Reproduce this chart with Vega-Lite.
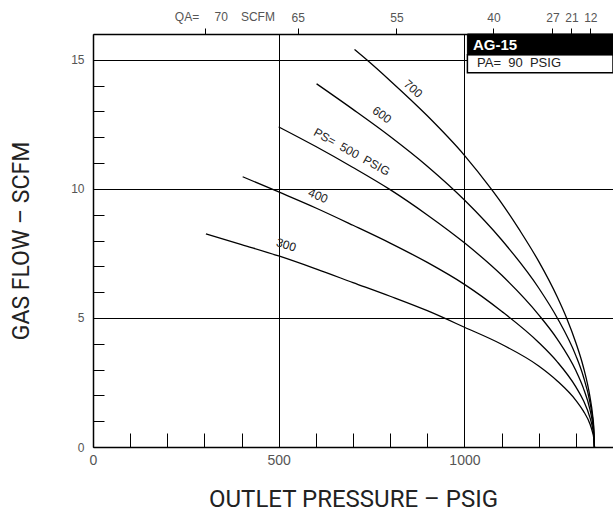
{
  "$schema": "https://vega.github.io/schema/vega-lite/v6.json",
  "autosize": "none",
  "width": 520,
  "height": 413,
  "padding": {"left": 93, "top": 34, "right": 0, "bottom": 71},
  "background": "white",
  "config": {"view": {"stroke": null}},
  "datasets": {
    "curves": [
      {"ps": 300, "p": 304, "q": 8.26}, {"ps": 300, "p": 400, "q": 7.84}, {"ps": 300, "p": 500, "q": 7.4}, {"ps": 300, "p": 600, "q": 6.9}, {"ps": 300, "p": 700, "q": 6.37}, {"ps": 300, "p": 800, "q": 5.84}, {"ps": 300, "p": 900, "q": 5.28}, {"ps": 300, "p": 1000, "q": 4.64}, {"ps": 300, "p": 1100, "q": 3.98}, {"ps": 300, "p": 1200, "q": 3.14}, {"ps": 300, "p": 1250, "q": 2.56}, {"ps": 300, "p": 1300, "q": 1.81}, {"ps": 300, "p": 1320, "q": 1.4}, {"ps": 300, "p": 1338, "q": 0.89}, {"ps": 300, "p": 1345, "q": 0.57}, {"ps": 300, "p": 1348, "q": 0.36}, {"ps": 300, "p": 1350, "q": 0},
      {"ps": 400, "p": 403, "q": 10.47}, {"ps": 400, "p": 500, "q": 9.88}, {"ps": 400, "p": 600, "q": 9.26}, {"ps": 400, "p": 700, "q": 8.59}, {"ps": 400, "p": 800, "q": 7.9}, {"ps": 400, "p": 900, "q": 7.15}, {"ps": 400, "p": 1000, "q": 6.3}, {"ps": 400, "p": 1100, "q": 5.26}, {"ps": 400, "p": 1200, "q": 4.05}, {"ps": 400, "p": 1250, "q": 3.3}, {"ps": 400, "p": 1300, "q": 2.33}, {"ps": 400, "p": 1320, "q": 1.81}, {"ps": 400, "p": 1338, "q": 1.14}, {"ps": 400, "p": 1345, "q": 0.74}, {"ps": 400, "p": 1348, "q": 0.47}, {"ps": 400, "p": 1350, "q": 0},
      {"ps": 500, "p": 500, "q": 12.4}, {"ps": 500, "p": 600, "q": 11.64}, {"ps": 500, "p": 700, "q": 10.83}, {"ps": 500, "p": 800, "q": 9.97}, {"ps": 500, "p": 900, "q": 8.99}, {"ps": 500, "p": 1000, "q": 7.91}, {"ps": 500, "p": 1100, "q": 6.66}, {"ps": 500, "p": 1200, "q": 5.12}, {"ps": 500, "p": 1250, "q": 4.18}, {"ps": 500, "p": 1300, "q": 2.96}, {"ps": 500, "p": 1320, "q": 2.29}, {"ps": 500, "p": 1338, "q": 1.45}, {"ps": 500, "p": 1345, "q": 0.93}, {"ps": 500, "p": 1348, "q": 0.59}, {"ps": 500, "p": 1350, "q": 0},
      {"ps": 600, "p": 602, "q": 14.07}, {"ps": 600, "p": 700, "q": 13.08}, {"ps": 600, "p": 800, "q": 12.03}, {"ps": 600, "p": 900, "q": 10.88}, {"ps": 600, "p": 1000, "q": 9.57}, {"ps": 600, "p": 1100, "q": 8.03}, {"ps": 600, "p": 1200, "q": 6.16}, {"ps": 600, "p": 1250, "q": 5.0}, {"ps": 600, "p": 1300, "q": 3.54}, {"ps": 600, "p": 1320, "q": 2.74}, {"ps": 600, "p": 1338, "q": 1.73}, {"ps": 600, "p": 1345, "q": 1.12}, {"ps": 600, "p": 1348, "q": 0.71}, {"ps": 600, "p": 1350, "q": 0},
      {"ps": 700, "p": 704, "q": 15.4}, {"ps": 700, "p": 737, "q": 15.0}, {"ps": 700, "p": 800, "q": 14.19}, {"ps": 700, "p": 900, "q": 12.83}, {"ps": 700, "p": 1000, "q": 11.3}, {"ps": 700, "p": 1072, "q": 10.0}, {"ps": 700, "p": 1100, "q": 9.45}, {"ps": 700, "p": 1150, "q": 8.37}, {"ps": 700, "p": 1200, "q": 7.19}, {"ps": 700, "p": 1250, "q": 5.81}, {"ps": 700, "p": 1275, "q": 5.0}, {"ps": 700, "p": 1300, "q": 4.04}, {"ps": 700, "p": 1320, "q": 3.11}, {"ps": 700, "p": 1338, "q": 1.94}, {"ps": 700, "p": 1345, "q": 1.25}, {"ps": 700, "p": 1348, "q": 0.79}, {"ps": 700, "p": 1350, "q": 0}
    ],
    "labels": [
      {"t": "700", "p": 862, "q": 13.88},
      {"t": "600", "p": 778, "q": 12.87},
      {"t": "PS=\u00a0 500\u00a0 PSIG", "p": 697, "q": 11.43},
      {"t": "400", "p": 606, "q": 9.73},
      {"t": "300", "p": 520, "q": 7.83}
    ],
    "qa": [
      {"t": "QA=", "p": 253, "q": 16},
      {"t": "70", "p": 345, "q": 16},
      {"t": "SCFM", "p": 444, "q": 16}
    ],
    "box": [{"p1": 1008, "p2": 1400, "q1": 15.2, "q2": 16, "q3": 14.5}],
    "boxtext": [
      {"t": "AG-15", "p": 1023, "q": 15.58, "k": "a"},
      {"t": "PA=\u00a0 90\u00a0 PSIG", "p": 1034, "q": 14.88, "k": "b"}
    ]
  },
  "resolve": {"axis": {"x": "independent", "y": "independent"}},
  "layer": [
    {
      "data": {"name": "curves"},
      "mark": {"type": "line", "color": "black", "strokeWidth": 1.3, "interpolate": "monotone"},
      "encoding": {
        "x": {
          "field": "p", "type": "quantitative",
          "scale": {"domain": [0, 1400], "nice": false, "zero": false},
          "axis": {
            "orient": "bottom",
            "title": "OUTLET PRESSURE \u2013 PSIG",
            "titleFont": "Roboto",
            "titleFontSize": 24,
            "titleFontWeight": "normal",
            "titleColor": "#222",
            "titlePadding": 20,
            "values": [0, 100, 200, 300, 400, 500, 600, 700, 800, 900, 1000, 1100, 1200, 1300, 1400],
            "format": "d",
            "labelExpr": "datum.value % 500 === 0 && datum.value < 1400 ? datum.label : ''",
            "labelFont": "Liberation Sans",
            "labelFontSize": 14,
            "labelColor": "#555",
            "labelPadding": 20,
            "labelFlush": false,
            "tickSize": -14,
            "tickColor": "black",
            "tickWidth": 1,
            "domainColor": "black",
            "domainWidth": 1.5,
            "grid": true,
            "gridColor": {"condition": {"test": "datum.value % 500 === 0 && datum.value > 0 && datum.value < 1400", "value": "black"}, "value": "rgba(0,0,0,0)"},
            "gridWidth": 1,
            "gridOpacity": 1
          }
        },
        "y": {
          "field": "q", "type": "quantitative",
          "scale": {"domain": [0, 16], "nice": false},
          "axis": {
            "orient": "left",
            "title": "GAS FLOW \u2013 SCFM",
            "titleFont": "Roboto",
            "titleFontSize": 23,
            "titleFontWeight": "normal",
            "titleColor": "#222",
            "titlePadding": 37,
            "values": [0, 1, 2, 3, 4, 5, 6, 7, 8, 9, 10, 11, 12, 13, 14, 15, 16],
            "labelExpr": "datum.value % 5 === 0 ? datum.label : ''",
            "labelFont": "Liberation Sans",
            "labelFontSize": 12,
            "labelColor": "#555",
            "labelPadding": 20,
            "tickSize": -11,
            "tickColor": "black",
            "domainColor": "black",
            "domainWidth": 1.5,
            "grid": true,
            "gridColor": {"condition": {"test": "datum.value % 5 === 0 && datum.value > 0", "value": "black"}, "value": "rgba(0,0,0,0)"},
            "gridWidth": 1,
            "gridOpacity": 1
          }
        },
        "detail": {"field": "ps", "type": "nominal"}
      }
    },
    {
      "data": {"name": "box"},
      "mark": {"type": "rect", "fill": "white", "stroke": "black", "strokeWidth": 1.5},
      "encoding": {
        "x": {"field": "p1", "type": "quantitative", "scale": {"domain": [0, 1400], "nice": false, "zero": false}, "axis": null},
        "x2": {"field": "p2"},
        "y": {"field": "q3", "type": "quantitative", "scale": {"domain": [0, 16], "nice": false}, "axis": null},
        "y2": {"field": "q1"}
      }
    },
    {
      "data": {"name": "box"},
      "mark": {"type": "rect", "fill": "black", "stroke": "black", "strokeWidth": 1},
      "encoding": {
        "x": {"field": "p1", "type": "quantitative", "scale": {"domain": [0, 1400], "nice": false, "zero": false}, "axis": null},
        "x2": {"field": "p2"},
        "y": {"field": "q1", "type": "quantitative", "scale": {"domain": [0, 16], "nice": false}, "axis": null},
        "y2": {"field": "q2"}
      }
    },
    {
      "data": {"name": "boxtext"},
      "transform": [{"filter": "datum.k == 'a'"}],
      "mark": {"type": "text", "align": "left", "baseline": "middle", "font": "Liberation Sans", "fontSize": 15, "fontWeight": "bold", "color": "white"},
      "encoding": {
        "x": {"field": "p", "type": "quantitative", "scale": {"domain": [0, 1400], "nice": false, "zero": false}, "axis": null},
        "y": {"field": "q", "type": "quantitative", "scale": {"domain": [0, 16], "nice": false}, "axis": null},
        "text": {"field": "t"}
      }
    },
    {
      "data": {"name": "boxtext"},
      "transform": [{"filter": "datum.k == 'b'"}],
      "mark": {"type": "text", "align": "left", "baseline": "middle", "font": "Liberation Sans", "fontSize": 13, "color": "#222"},
      "encoding": {
        "x": {"field": "p", "type": "quantitative", "scale": {"domain": [0, 1400], "nice": false, "zero": false}, "axis": null},
        "y": {"field": "q", "type": "quantitative", "scale": {"domain": [0, 16], "nice": false}, "axis": null},
        "text": {"field": "t"}
      }
    },
    {
      "data": {"name": "labels"},
      "transform": [{"filter": "datum.t == '700'"}],
      "mark": {"type": "text", "angle": 42, "baseline": "middle", "font": "Liberation Sans", "fontSize": 12, "color": "#222"},
      "encoding": {
        "x": {"field": "p", "type": "quantitative", "scale": {"domain": [0, 1400], "nice": false, "zero": false}, "axis": null},
        "y": {"field": "q", "type": "quantitative", "scale": {"domain": [0, 16], "nice": false}, "axis": null},
        "text": {"field": "t"}
      }
    },
    {
      "data": {"name": "labels"},
      "transform": [{"filter": "datum.t == '600'"}],
      "mark": {"type": "text", "angle": 36, "baseline": "middle", "font": "Liberation Sans", "fontSize": 12, "color": "#222"},
      "encoding": {
        "x": {"field": "p", "type": "quantitative", "scale": {"domain": [0, 1400], "nice": false, "zero": false}, "axis": null},
        "y": {"field": "q", "type": "quantitative", "scale": {"domain": [0, 16], "nice": false}, "axis": null},
        "text": {"field": "t"}
      }
    },
    {
      "data": {"name": "labels"},
      "transform": [{"filter": "indexof(datum.t, 'PS') === 0"}],
      "mark": {"type": "text", "angle": 29, "baseline": "middle", "font": "Liberation Sans", "fontSize": 12, "color": "#222"},
      "encoding": {
        "x": {"field": "p", "type": "quantitative", "scale": {"domain": [0, 1400], "nice": false, "zero": false}, "axis": null},
        "y": {"field": "q", "type": "quantitative", "scale": {"domain": [0, 16], "nice": false}, "axis": null},
        "text": {"field": "t"}
      }
    },
    {
      "data": {"name": "labels"},
      "transform": [{"filter": "datum.t == '400'"}],
      "mark": {"type": "text", "angle": 23, "baseline": "middle", "font": "Liberation Sans", "fontSize": 12, "color": "#222"},
      "encoding": {
        "x": {"field": "p", "type": "quantitative", "scale": {"domain": [0, 1400], "nice": false, "zero": false}, "axis": null},
        "y": {"field": "q", "type": "quantitative", "scale": {"domain": [0, 16], "nice": false}, "axis": null},
        "text": {"field": "t"}
      }
    },
    {
      "data": {"name": "labels"},
      "transform": [{"filter": "datum.t == '300'"}],
      "mark": {"type": "text", "angle": 17, "baseline": "middle", "font": "Liberation Sans", "fontSize": 12, "color": "#222"},
      "encoding": {
        "x": {"field": "p", "type": "quantitative", "scale": {"domain": [0, 1400], "nice": false, "zero": false}, "axis": null},
        "y": {"field": "q", "type": "quantitative", "scale": {"domain": [0, 16], "nice": false}, "axis": null},
        "text": {"field": "t"}
      }
    },
    {
      "data": {"name": "qa"},
      "mark": {"type": "text", "baseline": "middle", "dy": -17, "font": "Liberation Sans", "fontSize": 12, "color": "#555"},
      "encoding": {
        "x": {
          "field": "p", "type": "quantitative",
          "scale": {"domain": [0, 1400], "nice": false, "zero": false},
          "axis": {
            "orient": "top",
            "title": null,
            "values": [301, 551, 817, 1078, 1237, 1288, 1339],
            "labelExpr": "datum.value == 551 ? '65' : datum.value == 817 ? '55' : datum.value == 1078 ? '40' : datum.value == 1237 ? '27' : datum.value == 1288 ? '21' : datum.value == 1339 ? '12' : ''",
            "labelFont": "Liberation Sans",
            "labelFontSize": 12,
            "labelColor": "#555",
            "labelPadding": 4,
            "labelFlush": false,
            "labelOverlap": false,
            "tickSize": 6,
            "tickColor": "black",
            "domainColor": "black",
            "domainWidth": 1.5,
            "grid": false
          }
        },
        "y": {"field": "q", "type": "quantitative", "scale": {"domain": [0, 16], "nice": false}, "axis": null},
        "text": {"field": "t"}
      }
    }
  ]
}
